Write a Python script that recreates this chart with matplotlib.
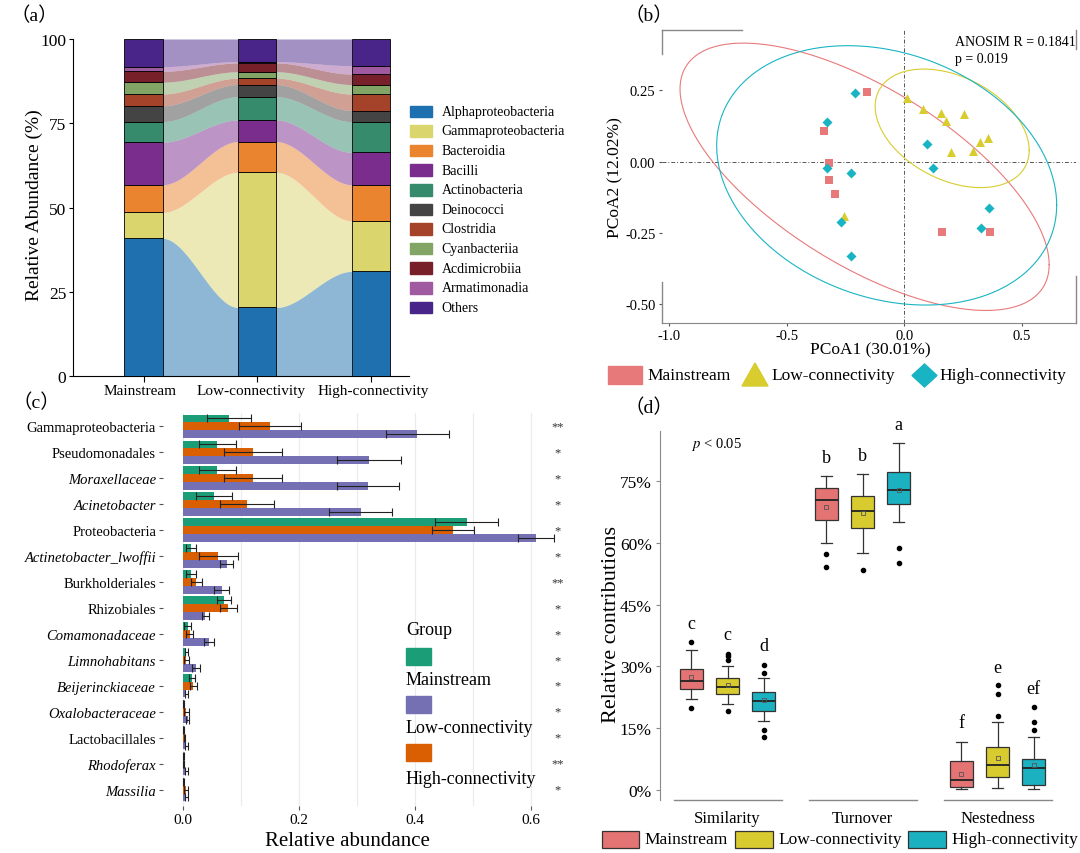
import numpy as np
import matplotlib
matplotlib.use("Agg")
import matplotlib.pyplot as plt
import matplotlib.transforms as mtransforms
from matplotlib.patches import Rectangle, Polygon

plt.rcParams['font.family'] = ['Liberation Serif', 'Noto Sans CJK SC', 'DejaVu Serif']
plt.rcParams['mathtext.fontset'] = 'stix'

# ---------------- data: panel (a) ----------------
sites = ['Mainstream', 'Low-connectivity', 'High-connectivity']
classes = ['Alphaproteobacteria', 'Gammaproteobacteria', 'Bacteroidia', 'Bacilli', 'Actinobacteria',
           'Deinococci', 'Clostridia', 'Cyanbacteriia', 'Acdimicrobiia', 'Armatimonadia', 'Others']
class_colors = ['#1F70AE', '#DBD56E', '#EA842F', '#7B2D8E', '#358B6C', '#444444',
                '#A5432A', '#82A566', '#78202A', '#9F5AA0', '#4A2589']
abund_main = [40.9, 7.7, 8.2, 12.6, 6.1, 4.7, 3.5, 3.5, 3.2, 1.4, 8.2]
abund_low = [20.4, 40.1, 9.1, 6.4, 6.9, 3.6, 1.9, 1.9, 2.6, 0.4, 6.7]
abund_high = [31.1, 15.0, 10.7, 9.6, 9.1, 3.3, 4.9, 2.8, 3.1, 2.5, 7.9]

# ---------------- data: panel (b) ----------------
main_x = [-0.159, -0.341, -0.319, -0.321, -0.295, 0.162, 0.363]
main_y = [0.245, 0.108, -0.004, -0.063, -0.112, -0.245, -0.245]
low_x = [0.013, 0.078, 0.155, 0.177, 0.253, 0.358, 0.322, 0.294, 0.200, -0.258]
low_y = [0.223, 0.185, 0.171, 0.144, 0.169, 0.084, 0.068, 0.037, 0.033, -0.189]
high_x = [-0.209, -0.327, -0.331, -0.227, 0.097, 0.124, 0.359, 0.325, -0.271, -0.226]
high_y = [0.241, 0.139, -0.021, -0.039, 0.063, -0.022, -0.161, -0.231, -0.212, -0.332]
# confidence ellipses: centre x, centre y, half-width, half-height, correlation
ell_main = (-0.169, -0.053, 0.786, 0.469, -0.657)
ell_low = (0.204, 0.117, 0.328, 0.208, -0.37)
ell_high = (-0.075, -0.048, 0.724, 0.455, -0.229)
grp_colors = ['#E8797A', '#D8CC2E', '#19B4C4']

# ---------------- data: panel (c) ----------------
taxa = ['Gammaproteobacteria', 'Pseudomonadales', 'Moraxellaceae', 'Acinetobacter', 'Proteobacteria',
        'Actinetobacter_lwoffii', 'Burkholderiales', 'Rhizobiales', 'Comamonadaceae', 'Limnohabitans',
        'Beijerinckiaceae', 'Oxalobacteraceae', 'Lactobacillales', 'Rhodoferax', 'Massilia']
italic_taxa = ['Moraxellaceae', 'Acinetobacter', 'Actinetobacter_lwoffii', 'Comamonadaceae',
               'Limnohabitans', 'Beijerinckiaceae', 'Oxalobacteraceae', 'Rhodoferax', 'Massilia']
mean_main = [0.080, 0.059, 0.059, 0.054, 0.489, 0.014, 0.014, 0.071, 0.008, 0.006, 0.016, 0.001, 0.001, 0.0005, 0.001]
sd_main = [0.038, 0.032, 0.032, 0.031, 0.054, 0.009, 0.009, 0.012, 0.006, 0.003, 0.005, 0.001, 0.0005, 0.0005, 0.001]
mean_high = [0.150, 0.120, 0.120, 0.110, 0.465, 0.061, 0.023, 0.078, 0.012, 0.006, 0.018, 0.006, 0.002, 0.001, 0.005]
sd_high = [0.053, 0.050, 0.050, 0.047, 0.036, 0.033, 0.010, 0.015, 0.006, 0.004, 0.006, 0.004, 0.001, 0.001, 0.003]
mean_low = [0.404, 0.320, 0.319, 0.306, 0.608, 0.075, 0.067, 0.038, 0.045, 0.023, 0.006, 0.008, 0.006, 0.006, 0.006]
sd_low = [0.054, 0.055, 0.054, 0.054, 0.031, 0.012, 0.013, 0.006, 0.009, 0.007, 0.003, 0.003, 0.003, 0.002, 0.003]
signif = ['**', '*', '*', '*', '*', '*', '**', '*', '*', '*', '*', '*', '*', '**', '*']
c_colors = {'Mainstream': '#1B9E77', 'Low-connectivity': '#7570B3', 'High-connectivity': '#D95F02'}

# ---------------- data: panel (d) ----------------
components = ['Similarity', 'Turnover', 'Nestedness']
# per component, per group: whislo, q1, med, q3, whishi, mean
box_main = [(22.1, 24.6, 26.4, 29.4, 34.0, 27.3), (59.9, 65.7, 70.5, 73.3, 76.3, 68.8), (0.1, 0.7, 2.4, 7.0, 11.7, 3.8)]
box_low = [(20.8, 23.3, 25.0, 27.2, 30.1, 25.5), (57.6, 63.6, 67.8, 71.4, 76.8, 67.4), (0.3, 3.2, 5.9, 10.5, 16.5, 7.6)]
box_high = [(16.6, 19.1, 21.6, 23.7, 27.2, 21.8), (65.1, 69.5, 73.0, 77.3, 84.3, 72.9), (0.1, 1.1, 5.3, 7.5, 12.9, 6.0)]
out_main = [[35.8, 19.9], [57.2, 54.2], []]
out_low = [[33.0, 32.4, 31.6, 19.2], [53.5], [17.9, 23.2, 25.4]]
out_high = [[30.4, 28.5, 14.5, 12.9], [58.7, 55.1], [14.4, 16.4, 20.0]]
letters = [['c', 'c', 'd'], ['b', 'b', 'a'], ['f', 'e', 'ef']]
letter_y = [[40.3, 37.7, 35.0], [80.8, 81.2, 88.8], [16.4, 29.8, 24.7]]
d_colors = ['#E47474', '#D8CB30', '#1BB1C1']

W, H = 1080, 854
fig = plt.figure(figsize=(W / 100, H / 100), dpi=100)


def frac(l, t, r, b):
    return [l / W, 1 - b / H, (r - l) / W, (b - t) / H]


# overlay in pixel coordinates for labels and hand-made legends
ov = fig.add_axes([0, 0, 1, 1], zorder=10)
ov.set_xlim(0, W)
ov.set_ylim(H, 0)
ov.axis('off')
ov.patch.set_visible(False)

# ================= (a) =================
ax = fig.add_axes(frac(73.3, 40, 409, 377.3))
xa = np.arange(1, 4)
bw = 0.335
stack = np.array([abund_main, abund_low, abund_high])
cum = np.cumsum(stack, axis=1)
base = cum - stack
t = np.linspace(0, 1, 80)
s = t * t * (3 - 2 * t)
for k, col in enumerate(class_colors):
    ax.bar(xa, stack[:, k], bottom=base[:, k], width=bw, color=col, edgecolor='black', linewidth=0.6, zorder=3)
    for j in range(2):
        x0, x1 = xa[j] + bw / 2, xa[j + 1] - bw / 2
        xs = x0 + (x1 - x0) * t
        lo = base[j, k] + (base[j + 1, k] - base[j, k]) * s
        hi = cum[j, k] + (cum[j + 1, k] - cum[j, k]) * s
        ax.fill_between(xs, lo, hi, color=col, alpha=0.5, lw=0, zorder=2)
ax.set_xlim(0.3815, 3.339)
ax.set_ylim(0, 100)
ax.set_yticks([0, 25, 50, 75, 100])
ax.set_xticks(xa)
ax.set_xticklabels([])
ax.tick_params(axis='y', labelsize=12.5, length=3, pad=2)
ax.tick_params(axis='x', length=4, pad=3)
for sp in ['top', 'right']:
    ax.spines[sp].set_visible(False)
# site names sit a little off their ticks so the long ones do not collide
for nm, px in zip(sites, [140, 251, 373]):
    ov.text(px, 392, nm, ha='center', va='center', fontsize=11)
ov.text(34, 205, 'Relative Abundance (%)', rotation=90, ha='center', va='center', fontsize=14)
for i, (name, col) in enumerate(zip(classes, class_colors)):
    yy = 112.3 + 19.6 * i
    ov.add_patch(Rectangle((410, yy - 5.8), 22, 11.7, color=col))
    ov.text(441.7, yy, name, ha='left', va='center', fontsize=10)

# ================= (b) =================
bx = fig.add_axes(frac(661.7, 31, 1075.7, 324))
bx.set_xlim(-1.033, 0.730)
bx.set_ylim(-0.566, 0.462)
bx.axhline(0, color='#555555', lw=0.7, ls=(0, (4, 2, 1, 2)), zorder=1)
bx.axvline(0, color='#555555', lw=0.7, ls=(0, (4, 2, 1, 2)), zorder=1)
tt = np.linspace(0, 2 * np.pi, 300)
for (cx, cy, wx, hy, rho), col in zip([ell_main, ell_low, ell_high], grp_colors):
    ex = cx + wx * np.cos(tt)
    ey = cy + hy * (rho * np.cos(tt) + np.sqrt(1 - rho ** 2) * np.sin(tt))
    bx.plot(ex, ey, color=col, lw=0.8, zorder=2)
bx.scatter(main_x, main_y, marker='s', s=30, color=grp_colors[0], lw=0, zorder=3)
bx.scatter(low_x, low_y, marker='^', s=42, color=grp_colors[1], lw=0, zorder=3)
bx.scatter(high_x, high_y, marker='D', s=26, color=grp_colors[2], lw=0, zorder=3)
bx.set_xticks([-1.0, -0.5, 0.0, 0.5])
bx.set_xticklabels(['-1.0', '-0.5', '0.0', '0.5'])
bx.set_yticks([-0.5, -0.25, 0.0, 0.25])
bx.set_yticklabels(['-0.50', '-0.25', '0.00', '0.25'])
bx.tick_params(labelsize=10.5, length=2.5, color='#555555', pad=2)
for sp in ['top', 'right', 'left']:
    bx.spines[sp].set_visible(False)
bx.spines['bottom'].set_color('#888888')
# the frame of this panel is only partly drawn in the original
for xs_, ys_ in [([0, 0.193], [1, 1]), ([0, 0], [1, 0.918]), ([0, 0], [0.139, 0]),
                 ([1, 1], [1, 0.935]), ([1, 1], [0.161, 0])]:
    bx.plot(xs_, ys_, transform=bx.transAxes, color='#888888', lw=1, clip_on=False)
ov.text(955, 43, 'ANOSIM R = 0.1841', ha='left', va='center', fontsize=10)
ov.text(955, 60, 'p = 0.019', ha='left', va='center', fontsize=10)
ov.text(870, 350, 'PCoA1 (30.01%)', ha='center', va='center', fontsize=12.5)
ov.text(615, 178, 'PCoA2 (12.02%)', rotation=90, ha='center', va='center', fontsize=12.5)
ov.add_patch(Rectangle((608, 367), 34, 18, color=grp_colors[0]))
ov.text(647, 376, sites[0], ha='left', va='center', fontsize=12.5)
ov.add_patch(Polygon([(742, 387), (768, 387), (755, 364)], closed=True, color=grp_colors[1]))
ov.text(771, 376, sites[1], ha='left', va='center', fontsize=12.5)
ov.add_patch(Polygon([(912, 376.5), (924.5, 365), (937, 376.5), (924.5, 388)], closed=True, color=grp_colors[2]))
ov.text(939, 376, sites[2], ha='left', va='center', fontsize=12.5)

# ================= (c) =================
cx_ = fig.add_axes(frac(163, 414, 570, 807))
yc = np.arange(len(taxa))
ekw = dict(ecolor='#222222', elinewidth=0.8, capsize=3.2, capthick=0.8)
cx_.barh(yc - 0.3, mean_main, height=0.3, color=c_colors['Mainstream'], xerr=sd_main, error_kw=ekw, zorder=3)
cx_.barh(yc, mean_high, height=0.3, color=c_colors['High-connectivity'], xerr=sd_high, error_kw=ekw, zorder=3)
cx_.barh(yc + 0.3, mean_low, height=0.3, color=c_colors['Low-connectivity'], xerr=sd_low, error_kw=ekw, zorder=3)
cx_.set_xlim(-0.0345, 0.667)
cx_.set_ylim(14.63, -0.51)
cx_.set_yticks(yc)
cx_.set_yticklabels(taxa, fontsize=10.5)
for lab in cx_.get_yticklabels():
    if lab.get_text() in italic_taxa:
        lab.set_fontstyle('italic')
cx_.set_xticks([0, 0.2, 0.4, 0.6])
cx_.set_xticklabels(['0.0', '0.2', '0.4', '0.6'], fontsize=11)
cx_.set_xticks([0.1, 0.3, 0.5], minor=True)
cx_.grid(True, axis='x', which='both', color='#EBEBEB', lw=0.8)
cx_.set_axisbelow(True)
cx_.tick_params(which='major', length=3, color='#555555', pad=2)
cx_.tick_params(which='minor', length=0)
for sp in cx_.spines.values():
    sp.set_visible(False)
for i, st in enumerate(signif):
    cx_.text(0.645, i, st, ha='center', va='center', fontsize=9, color='#333333')
ov.text(347, 842, 'Relative abundance', ha='center', va='center', fontsize=15)
ov.text(406, 631, 'Group', ha='left', va='center', fontsize=13)
for nm, yy_patch, yy_lab in [('Mainstream', 649, 681), ('Low-connectivity', 696.7, 728.3),
                              ('High-connectivity', 745, 779.3)]:
    ov.add_patch(Rectangle((406, yy_patch), 24.7, 17, color=c_colors[nm]))
    ov.text(406, yy_lab, nm, ha='left', va='center', fontsize=13)

# ================= (d) =================
dx = fig.add_axes(frac(660, 431.7, 1065, 801))
offsets = [-0.267, 0.0, 0.267]
stats, pos, cols = [], [], []
for g in range(3):
    for j, (bxs, outs) in enumerate(zip([box_main, box_low, box_high], [out_main, out_low, out_high])):
        wl, q1, md, q3, wh, mn = bxs[g]
        stats.append(dict(whislo=wl, q1=q1, med=md, q3=q3, whishi=wh, mean=mn, fliers=outs[g]))
        pos.append(g + 1 + offsets[j])
        cols.append(d_colors[j])
bp = dx.bxp(stats, positions=pos, widths=0.173, patch_artist=True, showmeans=True, capwidths=0.085,
            boxprops=dict(edgecolor='#333333', linewidth=0.9),
            whiskerprops=dict(color='#333333', linewidth=0.9),
            capprops=dict(color='#333333', linewidth=0.9),
            medianprops=dict(color='#222222', linewidth=1.3),
            meanprops=dict(marker='s', markerfacecolor='none', markeredgecolor='#555555',
                           markersize=3, markeredgewidth=0.6),
            flierprops=dict(marker='o', markerfacecolor='black', markeredgecolor='black', markersize=3))
for patch, col in zip(bp['boxes'], cols):
    patch.set_facecolor(col)
for g in range(3):
    for j in range(3):
        dx.text(g + 1 + offsets[j], letter_y[g][j], letters[g][j], ha='center', va='center',
                fontsize=13, clip_on=False)
dx.set_xlim(0.5, 3.5)
dx.set_ylim(-2.5, 87.3)
dx.set_yticks([0, 15, 30, 45, 60, 75])
dx.set_yticklabels(['0%', '15%', '30%', '45%', '60%', '75%'])
dx.set_xticks([1, 2, 3])
dx.set_xticklabels(components)
dx.tick_params(axis='y', labelsize=12.5, length=3, color='#888888', pad=3)
dx.tick_params(axis='x', labelsize=12, length=0, pad=7)
for sp in ['top', 'right', 'bottom']:
    dx.spines[sp].set_visible(False)
dx.spines['left'].set_color('#888888')
trans = mtransforms.blended_transform_factory(dx.transData, dx.transAxes)
for g in range(3):
    dx.plot([g + 1 - 0.4, g + 1 + 0.4], [0, 0], transform=trans, color='#888888', lw=1, clip_on=False)
dx.text(0.918, 84.2, r'$p$ < 0.05', ha='center', va='center', fontsize=10.5)
ov.text(612, 625, 'Relative contributions', rotation=90, ha='center', va='center', fontsize=16)
for x_patch, x_text, nm, col in zip([601.7, 735, 908], [644, 778, 951], sites, d_colors):
    ov.add_patch(Rectangle((x_patch, 831.7), 37.6, 17.3, facecolor=col, edgecolor='#333333', lw=0.9))
    ov.text(x_text, 840, nm, ha='left', va='center', fontsize=12.5)

# panel tags
for tag, (px, py) in zip(['a', 'b', 'c', 'd'], [(34, 16), (649, 16), (36, 403), (649, 408)]):
    ov.text(px, py, '\uff08' + tag + '\uff09', ha='center', va='center', fontsize=14)

fig.savefig('out.png', dpi=100)
